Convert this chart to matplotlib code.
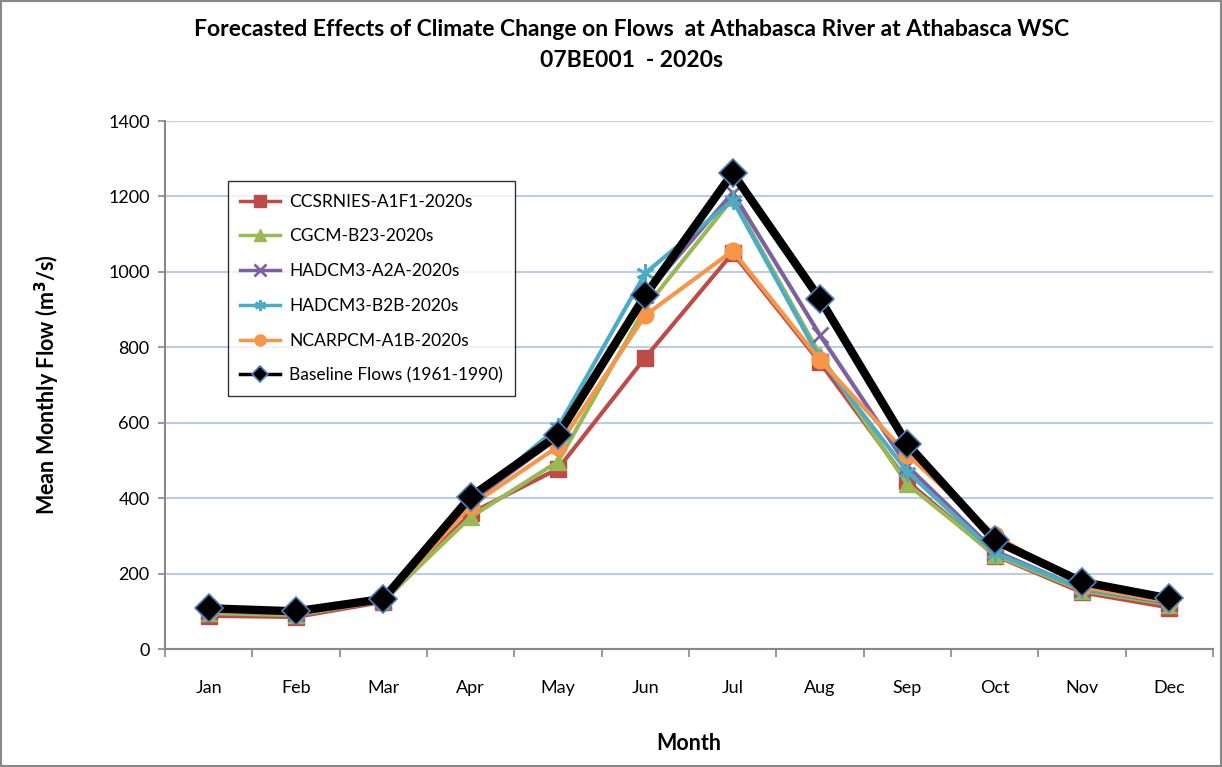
import numpy as np
import matplotlib.pyplot as plt
from matplotlib.patches import Rectangle

# ---------------- data ----------------
months = ['Jan', 'Feb', 'Mar', 'Apr', 'May', 'Jun', 'Jul', 'Aug', 'Sep', 'Oct', 'Nov', 'Dec']

ccsrnies = [88, 85, 125, 360, 478, 773, 1050, 760, 445, 248, 150, 110]
cgcm = [95, 90, 128, 350, 497, 905, 1195, 780, 437, 250, 155, 118]
hadcm3_a2a = [100, 95, 128, 390, 560, 940, 1210, 832, 485, 260, 160, 122]
hadcm3_b2b = [100, 95, 128, 395, 588, 997, 1190, 770, 470, 255, 160, 125]
ncarpcm = [100, 95, 128, 380, 537, 885, 1056, 766, 515, 303, 165, 125]
baseline = [108, 100, 133, 404, 567, 938, 1262, 928, 543, 288, 178, 134]

labels = ['CCSRNIES-A1F1-2020s', 'CGCM-B23-2020s', 'HADCM3-A2A-2020s',
          'HADCM3-B2B-2020s', 'NCARPCM-A1B-2020s', 'Baseline Flows (1961-1990)']

# ---------------- plotting ----------------
plt.rcParams['font.family'] = ['Lato', 'DejaVu Sans']

fig = plt.figure(figsize=(12.22, 7.67), dpi=100)
ax = fig.add_axes([0.135, 0.1538, 0.8577, 0.6884])

x = np.arange(len(months))

ax.plot(x, ccsrnies, color='#be4b48', lw=3, marker='s', ms=11, mfc='#be4b48', mec='#be4b48',
        label=labels[0], zorder=3)
ax.plot(x, cgcm, color='#98b954', lw=3, marker='^', ms=12, mfc='#98b954', mec='#98b954',
        label=labels[1], zorder=3)
ax.plot(x, hadcm3_a2a, color='#7d60a0', lw=3, marker='x', ms=11, mew=2,
        label=labels[2], zorder=3)
ax.plot(x, hadcm3_b2b, color='#4bacc6', lw=3, marker=(6, 2, 0), ms=13, mew=2,
        label=labels[3], zorder=3)
ax.plot(x, ncarpcm, color='#f79646', lw=3, marker='o', ms=12, mfc='#f79646', mec='#f79646',
        label=labels[4], zorder=3)
ax.plot(x, baseline, color='black', lw=6, marker='D', ms=14, mfc='black', mec='#4f81bd', mew=1.2,
        label=labels[5], zorder=4)

ax.set_xlim(-0.5, 11.5)
ax.set_ylim(0, 1400)
ax.set_yticks(np.arange(0, 1401, 200))
ax.set_xticks(x)
ax.set_xticklabels(months, fontsize=13)
ax.set_xticks(np.arange(-0.5, 12, 1), minor=True)
ax.tick_params(axis='x', which='major', length=0, pad=22)
ax.tick_params(axis='x', which='minor', length=6, color='#888888', width=1.2)
ax.tick_params(axis='y', length=5, color='#888888', width=1.2, labelsize=13, pad=6)

ax.grid(axis='y', color='#b9cde5', lw=1.5, zorder=0)
ax.set_axisbelow(True)
for s in ['top', 'right']:
    ax.spines[s].set_visible(False)
for s in ['left', 'bottom']:
    ax.spines[s].set_color('#888888')
    ax.spines[s].set_linewidth(1.5)

ax.set_xlabel('Month', fontsize=15.5, fontweight='bold', labelpad=27)
ax.set_ylabel(r'Mean Monthly Flow (m$^\mathbf{3}$/s)', fontsize=15.5, fontweight='bold', labelpad=33)

leg = ax.legend(loc='upper left', bbox_to_anchor=(0.052, 0.902), fontsize=12.5,
                frameon=True, fancybox=False, edgecolor='black', handlelength=2.3,
                labelspacing=1.08, borderpad=0.7, handletextpad=0.5)
leg.get_frame().set_linewidth(1.0)
for ln in leg.get_lines():
    ln.set_markersize(8)
    ln.set_linewidth(2.5)

fig.text(0.517, 0.962, 'Forecasted Effects of Climate Change on Flows  at Athabasca River at Athabasca WSC',
         ha='center', va='center', fontsize=16.5, fontweight='bold')
fig.text(0.517, 0.921, '07BE001  - 2020s', ha='center', va='center', fontsize=16.5, fontweight='bold')

# outer chart border
fig.patches.append(Rectangle((0.001, 0.001), 0.998, 0.998, transform=fig.transFigure,
                             fill=False, edgecolor='#888888', lw=1.5))

plt.savefig('out.png', dpi=100)
plt.close()
